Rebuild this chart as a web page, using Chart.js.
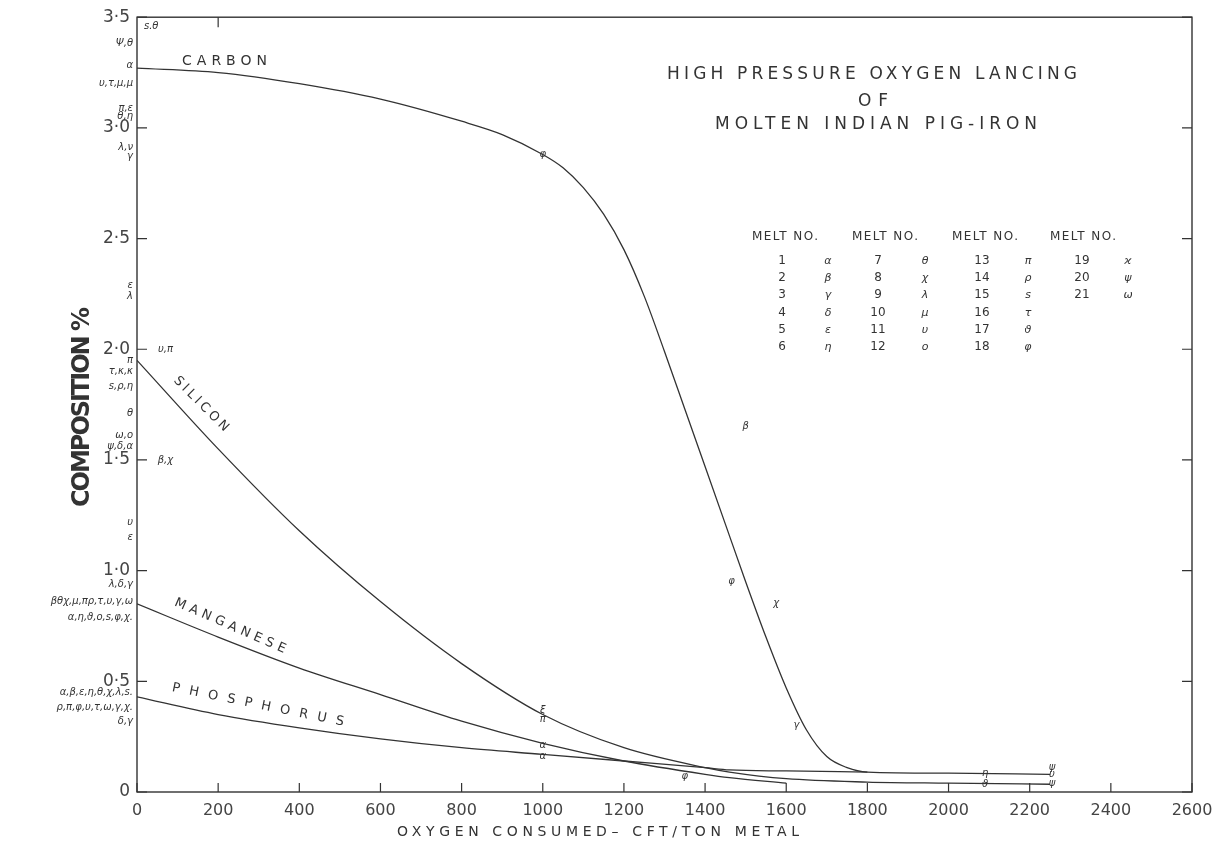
<!DOCTYPE html>
<html>
<head>
<meta charset="utf-8">
<script src="https://cdn.jsdelivr.net/npm/chart.js@4.4.1/dist/chart.umd.min.js"></script>
<style>
  html, body { margin: 0; padding: 0; background: #fff; }
</style>
</head>
<body>
<canvas id="chart" width="1230" height="852"></canvas>
<script>
// axis ticks
const xTickValues = [0, 200, 400, 600, 800, 1000, 1200, 1400, 1600, 1800, 2000, 2200, 2400, 2600];
const yTickValues = [0, 0.5, 1.0, 1.5, 2.0, 2.5, 3.0, 3.5];

// curves (oxygen consumed, composition %)
const carbonX = [0, 200, 400, 600, 800, 900, 1000, 1050, 1100, 1150, 1200, 1250, 1300, 1350, 1400, 1450, 1500, 1550, 1600, 1650, 1700, 1750, 1800, 2000, 2250];
const carbonY = [3.27, 3.25, 3.20, 3.13, 3.03, 2.97, 2.88, 2.82, 2.73, 2.61, 2.45, 2.24, 1.99, 1.73, 1.47, 1.21, 0.95, 0.70, 0.47, 0.28, 0.16, 0.11, 0.09, 0.085, 0.08];

const siliconX = [0, 200, 400, 600, 800, 1000, 1200, 1400, 1460, 1600, 1800, 2000, 2250];
const siliconY = [1.95, 1.55, 1.18, 0.86, 0.58, 0.35, 0.20, 0.11, 0.09, 0.06, 0.045, 0.04, 0.035];

const manganeseX = [0, 200, 400, 600, 800, 1000, 1200, 1400, 1460, 1600];
const manganeseY = [0.85, 0.70, 0.56, 0.44, 0.32, 0.22, 0.14, 0.08, 0.065, 0.04];

const phosphorusX = [0, 200, 400, 600, 800, 1000, 1200, 1400, 1460, 1600, 1800];
const phosphorusY = [0.43, 0.35, 0.29, 0.24, 0.20, 0.17, 0.14, 0.11, 0.10, 0.095, 0.09];

// melt symbols written beside the y axis (at zero oxygen)
const axisSymY = [3.38, 3.28, 3.20, 3.09, 3.05, 2.91, 2.87, 2.29, 2.24, 1.95, 1.90, 1.83, 1.71, 1.61, 1.56, 1.22, 1.15, 0.94, 0.86, 0.79, 0.45, 0.38, 0.32];
const axisSymText = ['Ψ,θ', 'α', 'υ,τ,μ,μ', 'π,ε', 'θ,η', 'λ,ν', 'γ', 'ε', 'λ', 'π', 'τ,κ,κ', 's,ρ,η', 'θ', 'ω,ο', 'ψ,δ,α', 'υ', 'ε',
  'λ,δ,γ', 'βθχ,μ,πρ,τ,υ,γ,ω', 'α,η,ϑ,ο,s,φ,χ.', 'α,β,ε,η,θ,χ,λ,s.', 'ρ,π,φ,υ,τ,ω,γ,χ.', 'δ,γ'];

// melt symbols inside the plot
const plotSymX = [35, 70, 70, 1000, 1500, 1465, 1575, 1625, 1000, 1000, 1000, 1000, 1350, 2090, 2090, 2255, 2255, 2255];
const plotSymY = [3.46, 2.0, 1.5, 2.88, 1.65, 0.95, 0.85, 0.30, 0.37, 0.33, 0.21, 0.16, 0.07, 0.085, 0.035, 0.11, 0.08, 0.04];
const plotSymText = ['s.θ', 'υ,π', 'β,χ', 'φ', 'β', 'φ', 'χ', 'γ', 'ξ', 'π', 'α', 'α', 'φ', 'η', 'ϑ', 'ψ', 'υ', 'ψ'];

// legend table: melt number -> symbol
const meltNumbers = [
  ['1', '2', '3', '4', '5', '6'],
  ['7', '8', '9', '10', '11', '12'],
  ['13', '14', '15', '16', '17', '18'],
  ['19', '20', '21']
];
const meltSymbols = [
  ['α', 'β', 'γ', 'δ', 'ε', 'η'],
  ['θ', 'χ', 'λ', 'μ', 'υ', 'ο'],
  ['π', 'ρ', 's', 'τ', 'ϑ', 'φ'],
  ['ϰ', 'ψ', 'ω']
];

const titleLines = ['HIGH PRESSURE OXYGEN LANCING', 'OF', 'MOLTEN INDIAN PIG-IRON'];
const curveNames = ['CARBON', 'SILICON', 'MANGANESE', 'PHOSPHORUS'];

const INK = '#333';
const FONT = "'DejaVu Sans', sans-serif";

function points(xs, ys) {
  return xs.map((x, i) => ({ x: x, y: ys[i] }));
}

function curve(label, xs, ys) {
  return {
    label: label,
    data: points(xs, ys),
    showLine: true,
    borderColor: INK,
    borderWidth: 1.3,
    pointRadius: 0,
    cubicInterpolationMode: 'monotone'
  };
}

// draws text stretched to a given width with letter spacing
function spaced(ctx, text, x, y, width, font, align) {
  ctx.save();
  ctx.font = font;
  ctx.letterSpacing = '0px';
  const w = ctx.measureText(text).width;
  const gap = text.length > 1 ? (width - w) / (text.length - 1) : 0;
  ctx.letterSpacing = gap + 'px';
  ctx.textAlign = 'left';
  let x0 = x;
  if (align === 'center') x0 = x - width / 2;
  ctx.fillText(text, x0, y);
  ctx.restore();
}

const paperPlugin = {
  id: 'paper',
  afterDraw(chart) {
    const ctx = chart.ctx;
    const a = chart.chartArea;
    const xs = chart.scales.x;
    const ys = chart.scales.y;

    ctx.save();
    ctx.strokeStyle = INK;
    ctx.lineWidth = 1.4;
    ctx.strokeRect(a.left, a.top, a.right - a.left, a.bottom - a.top);

    // inward ticks
    ctx.lineWidth = 1.2;
    ctx.beginPath();
    xTickValues.forEach(v => {
      const px = xs.getPixelForValue(v);
      ctx.moveTo(px, a.bottom);
      ctx.lineTo(px, a.bottom - 9);
    });
    const topTick = xs.getPixelForValue(200);
    ctx.moveTo(topTick, a.top);
    ctx.lineTo(topTick, a.top + 10);
    yTickValues.forEach(v => {
      const py = ys.getPixelForValue(v);
      ctx.moveTo(a.left, py);
      ctx.lineTo(a.left + 10, py);
      ctx.moveTo(a.right, py);
      ctx.lineTo(a.right - 10, py);
    });
    ctx.stroke();

    ctx.fillStyle = INK;
    ctx.textBaseline = 'middle';

    // axis titles
    ctx.save();
    ctx.translate(83, 407);
    ctx.rotate(-Math.PI / 2);
    spaced(ctx, 'COMPOSITION %', 0, 0, 200, "bold 24px " + FONT, 'center');
    ctx.restore();
    spaced(ctx, 'OXYGEN CONSUMED– CFT/TON METAL', 598, 832, 402, "14px " + FONT, 'center');

    // chart title
    spaced(ctx, titleLines[0], 872, 75, 410, "17px " + FONT, 'center');
    spaced(ctx, titleLines[1], 873, 102, 30, "17px " + FONT, 'center');
    spaced(ctx, titleLines[2], 876, 125, 322, "17px " + FONT, 'center');

    // curve names
    spaced(ctx, curveNames[0], 182, 61, 85, "14px " + FONT, 'left');
    ctx.save();
    ctx.translate(201, 404);
    ctx.rotate(Math.PI / 4);
    spaced(ctx, curveNames[1], 0, 0, 72, "13px " + FONT, 'center');
    ctx.restore();
    ctx.save();
    ctx.translate(230, 626);
    ctx.rotate(0.41);
    spaced(ctx, curveNames[2], 0, 0, 120, "13px " + FONT, 'center');
    ctx.restore();
    ctx.save();
    ctx.translate(258, 705);
    ctx.rotate(0.2);
    spaced(ctx, curveNames[3], 0, 0, 175, "13px " + FONT, 'center');
    ctx.restore();

    // legend table
    const headX = [752, 852, 952, 1050];
    const numX = [782, 878, 982, 1082];
    const symX = [828, 925, 1028, 1128];
    const rowY = [261, 278, 295, 313, 330, 347];
    headX.forEach(hx => spaced(ctx, 'MELT NO.', hx, 237, 66, "12px " + FONT, 'left'));
    ctx.textAlign = 'center';
    meltNumbers.forEach((col, c) => {
      col.forEach((n, r) => {
        ctx.font = "12px " + FONT;
        ctx.fillText(n, numX[c], rowY[r]);
        ctx.font = "italic 11px " + FONT;
        ctx.fillText(meltSymbols[c][r], symX[c], rowY[r]);
      });
    });

    // melt symbols
    ctx.font = "italic 10px " + FONT;
    ctx.textAlign = 'right';
    axisSymY.forEach((v, i) => {
      ctx.fillText(axisSymText[i], a.left - 4, ys.getPixelForValue(v));
    });
    ctx.textAlign = 'center';
    plotSymX.forEach((v, i) => {
      ctx.fillText(plotSymText[i], xs.getPixelForValue(v), ys.getPixelForValue(plotSymY[i]));
    });
    ctx.restore();
  }
};

new Chart(document.getElementById('chart'), {
  type: 'scatter',
  data: {
    datasets: [
      curve('Carbon', carbonX, carbonY),
      curve('Silicon', siliconX, siliconY),
      curve('Manganese', manganeseX, manganeseY),
      curve('Phosphorus', phosphorusX, phosphorusY)
    ]
  },
  options: {
    responsive: false,
    animation: false,
    devicePixelRatio: 1,
    layout: { padding: { left: 0, top: 16, right: 38, bottom: 0 } },
    plugins: {
      legend: { display: false },
      tooltip: { enabled: false }
    },
    scales: {
      x: {
        type: 'linear',
        min: 0,
        max: 2600,
        afterBuildTicks: s => { s.ticks = xTickValues.map(v => ({ value: v })); },
        afterFit: s => { s.height = 60; },
        grid: { display: false, drawTicks: false },
        border: { display: false },
        ticks: {
          color: '#444',
          padding: 9,
          font: { family: FONT, size: 16 },
          maxRotation: 0,
          callback: v => String(v)
        }
      },
      y: {
        type: 'linear',
        min: 0,
        max: 3.5,
        afterBuildTicks: s => { s.ticks = yTickValues.map(v => ({ value: v })); },
        afterFit: s => { s.width = 137; },
        grid: { display: false, drawTicks: false },
        border: { display: false },
        ticks: {
          color: '#444',
          padding: 7,
          font: { family: FONT, size: 17 },
          callback: v => v === 0 ? '0' : v.toFixed(1).replace('.', '·')
        }
      }
    }
  },
  plugins: [paperPlugin]
});
</script>
</body>
</html>
